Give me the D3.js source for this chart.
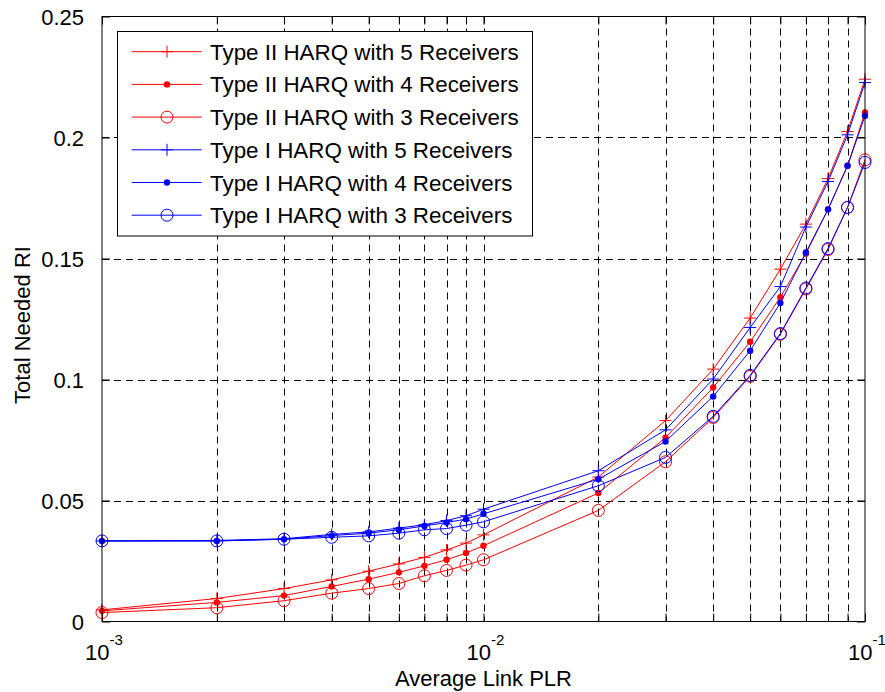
<!DOCTYPE html>
<html>
<head>
<meta charset="utf-8">
<script src="https://cdn.jsdelivr.net/npm/d3@7.9.0/dist/d3.min.js"></script>
<style>
  body { margin: 0; background: #fff; }
  svg text { font-family: "Liberation Sans", Arial, sans-serif; fill: #000; }
</style>
</head>
<body>
<svg id="chart" width="885" height="692"></svg>
<script>
// average link PLR values (x)
const plr = [0.001, 0.002, 0.003, 0.004, 0.005, 0.006, 0.007, 0.008, 0.009, 0.01,
             0.02, 0.03, 0.04, 0.05, 0.06, 0.07, 0.08, 0.09, 0.1];

// total needed RI
const typeII5 = [0.0048, 0.0095, 0.0136, 0.0172, 0.0208, 0.0238, 0.0265, 0.0296, 0.0324, 0.0358,
                 0.0597, 0.0830, 0.1043, 0.1254, 0.1456, 0.1642, 0.1830, 0.2025, 0.2241];
const typeII4 = [0.0044, 0.0079, 0.0107, 0.0145, 0.0175, 0.0203, 0.0230, 0.0255, 0.0283, 0.0313,
                 0.0531, 0.0760, 0.0967, 0.1156, 0.1340, 0.1520, 0.1703, 0.1883, 0.2103];
const typeII3 = [0.0037, 0.0057, 0.0086, 0.0117, 0.0136, 0.0157, 0.0189, 0.0211, 0.0233, 0.0255,
                 0.0459, 0.0660, 0.0843, 0.1013, 0.1187, 0.1374, 0.1537, 0.1711, 0.1908];
const typeI5 = [0.0333, 0.0335, 0.0342, 0.0360, 0.0370, 0.0386, 0.0400, 0.0417, 0.0437, 0.0464,
                0.0623, 0.0792, 0.1002, 0.1215, 0.1384, 0.1630, 0.1818, 0.2011, 0.2227];
const typeI4 = [0.0333, 0.0333, 0.0340, 0.0355, 0.0365, 0.0379, 0.0395, 0.0409, 0.0423, 0.0445,
                0.0588, 0.0744, 0.0930, 0.1119, 0.1316, 0.1525, 0.1703, 0.1883, 0.2090];
const typeI3 = [0.0333, 0.0333, 0.0340, 0.0348, 0.0354, 0.0365, 0.0379, 0.0384, 0.0398, 0.0412,
                0.0561, 0.0678, 0.0848, 0.1017, 0.1190, 0.1378, 0.1541, 0.1711, 0.1897];

const seriesNames = [
  'Type II HARQ with 5 Receivers',
  'Type II HARQ with 4 Receivers',
  'Type II HARQ with 3 Receivers',
  'Type I HARQ with 5 Receivers',
  'Type I HARQ with 4 Receivers',
  'Type I HARQ with 3 Receivers'
];
const seriesValues = [typeII5, typeII4, typeII3, typeI5, typeI4, typeI3];
const seriesColors = ['#ff0000', '#ff0000', '#ff0000', '#0000ff', '#0000ff', '#0000ff'];
const seriesMarkers = ['plus', 'dot', 'circle', 'plus', 'dot', 'circle'];

const yTicks = [0, 0.05, 0.1, 0.15, 0.2, 0.25];
const yTickLabels = ['0', '0.05', '0.1', '0.15', '0.2', '0.25'];
const xDecades = [0.001, 0.01, 0.1];
const xDecadeExp = ['-3', '-2', '-1'];

const plotLeft = 102, plotRight = 865, plotTop = 16.5, plotBottom = 621.5;

const svg = d3.select('#chart');

const x = d3.scaleLog().domain([0.001, 0.1]).range([plotLeft, plotRight]);
const y = d3.scaleLinear().domain([0, 0.25]).range([plotBottom, plotTop]);

// all ticks on the log axis: 1..9 of each decade
let xTicks = [];
[0.001, 0.01].forEach(d => {
  for (let k = 1; k < 10; k++) xTicks.push(+(d * k).toPrecision(3));
});
xTicks.push(0.1);

// grid
const grid = svg.append('g').attr('stroke', '#000').attr('stroke-width', 1)
  .attr('stroke-dasharray', '7,5').attr('fill', 'none');
xTicks.filter(t => t > 0.001 && t < 0.1).forEach(t => {
  const px = Math.round(x(t)) + 0.5;
  grid.append('line').attr('x1', px).attr('x2', px).attr('y1', plotTop).attr('y2', plotBottom);
});
yTicks.filter(t => t > 0 && t < 0.25).forEach(t => {
  const py = Math.round(y(t)) + 0.5;
  grid.append('line').attr('x1', plotLeft).attr('x2', plotRight).attr('y1', py).attr('y2', py);
});

// axes with inward ticks on all four sides
const axisStyle = g => {
  g.select('.domain').remove();
  g.selectAll('line').attr('stroke', '#000');
};
svg.append('g').attr('transform', `translate(0,${plotBottom})`)
  .call(d3.axisBottom(x).tickValues(xTicks).tickSize(-8).tickFormat(''))
  .call(axisStyle);
svg.append('g').attr('transform', `translate(0,${plotTop})`)
  .call(d3.axisTop(x).tickValues(xTicks).tickSize(-8).tickFormat(''))
  .call(axisStyle);
svg.append('g').attr('transform', `translate(${plotLeft},0)`)
  .call(d3.axisLeft(y).tickValues(yTicks).tickSize(-8).tickFormat(''))
  .call(axisStyle);
svg.append('g').attr('transform', `translate(${plotRight},0)`)
  .call(d3.axisRight(y).tickValues(yTicks).tickSize(-8).tickFormat(''))
  .call(axisStyle);

// tick labels
yTicks.forEach((t, i) => {
  svg.append('text').attr('x', plotLeft - 18).attr('y', y(t) + 8)
    .attr('text-anchor', 'end').attr('font-size', 22).text(yTickLabels[i]);
});
xDecades.forEach((t, i) => {
  const lab = svg.append('text').attr('x', x(t) + 2).attr('y', 660)
    .attr('text-anchor', 'middle').attr('font-size', 22);
  lab.append('tspan').text('10');
  lab.append('tspan').attr('dy', -15).attr('font-size', 15).text(xDecadeExp[i]);
});

// axis titles
svg.append('text').attr('x', (plotLeft + plotRight) / 2).attr('y', 686)
  .attr('text-anchor', 'middle').attr('font-size', 22).text('Average Link PLR');
svg.append('text').attr('transform', `translate(30,325) rotate(-90)`)
  .attr('text-anchor', 'middle').attr('font-size', 22).text('Total Needed RI');

// markers
function drawMarker(g, kind, cx, cy, color) {
  if (kind === 'plus') {
    g.append('path').attr('d', `M${cx - 6},${cy}H${cx + 6}M${cx},${cy - 6}V${cy + 6}`)
      .attr('stroke', color).attr('stroke-width', 1).attr('fill', 'none');
  } else if (kind === 'dot') {
    g.append('circle').attr('cx', cx).attr('cy', cy).attr('r', 3.2).attr('fill', color);
  } else {
    g.append('circle').attr('cx', cx).attr('cy', cy).attr('r', 6)
      .attr('fill', 'none').attr('stroke', color).attr('stroke-width', 1);
  }
}

const line = d3.line().x(d => x(d[0])).y(d => y(d[1]));
const plot = svg.append('g');
seriesValues.forEach((vals, s) => {
  const pts = plr.map((p, i) => [p, vals[i]]);
  const g = plot.append('g');
  g.append('path').attr('d', line(pts)).attr('fill', 'none')
    .attr('stroke', seriesColors[s]).attr('stroke-width', 1);
  pts.forEach(d => drawMarker(g, seriesMarkers[s], x(d[0]), y(d[1]), seriesColors[s]));
});

// plot box
svg.append('rect').attr('x', plotLeft).attr('y', plotTop).attr('width', plotRight - plotLeft)
  .attr('height', plotBottom - plotTop).attr('fill', 'none').attr('stroke', '#000').attr('stroke-width', 1);

// legend
const lg = svg.append('g');
lg.append('rect').attr('x', 117.5).attr('y', 31.5).attr('width', 415).attr('height', 204.5)
  .attr('fill', '#fff').attr('stroke', '#000').attr('stroke-width', 1);
seriesNames.forEach((name, s) => {
  const ly = 51.7 + s * 32.7;
  lg.append('line').attr('x1', 131.7).attr('x2', 201.7).attr('y1', ly).attr('y2', ly)
    .attr('stroke', seriesColors[s]).attr('stroke-width', 1);
  drawMarker(lg, seriesMarkers[s], 167, ly, seriesColors[s]);
  lg.append('text').attr('x', 210).attr('y', ly + 8).attr('font-size', 22.4).text(name);
});
</script>
</body>
</html>
